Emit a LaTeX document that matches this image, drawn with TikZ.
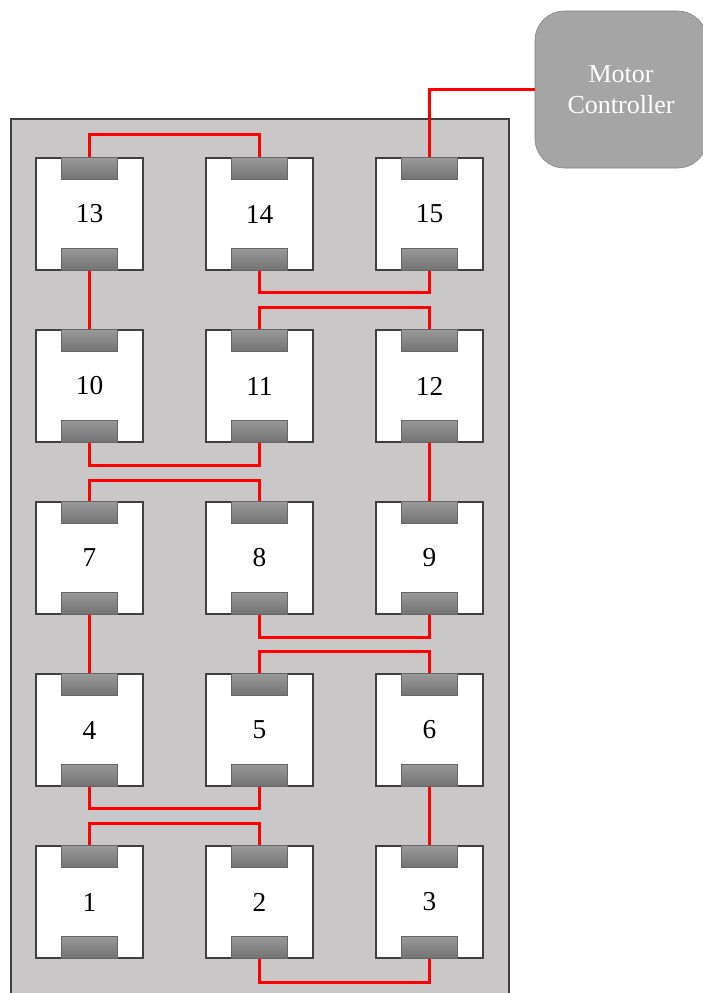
\documentclass[tikz,border=0pt]{standalone}
\usepackage{fontspec}
\setmainfont{Liberation Serif}
\usetikzlibrary{positioning,calc}
\definecolor{panelgray}{RGB}{201,199,200}
\definecolor{ctrlgray}{RGB}{165,165,165}
\definecolor{wirered}{RGB}{255,0,0}

\begin{document}
\begin{tikzpicture}[
  x=0.75pt,y=-0.75pt,
  module/.style={rectangle,draw=black!75,fill=white,line width=0.8pt,
    minimum width=80.25pt,minimum height=84pt,inner sep=0pt,
    font=\fontsize{20.5}{22}\selectfont},
  pad/.style={rectangle,draw=black!60,line width=0.6pt,top color=gray!80,bottom color=black!55,
    minimum width=42pt,minimum height=16.5pt,inner sep=0pt},
  wire/.style={wirered,line width=2.8pt},
  ctrl/.style={rectangle,rounded corners=22pt,draw=black!50,fill=ctrlgray,
    minimum width=129pt,minimum height=117.75pt,text=white,align=center,
    font=\fontsize{19.5}{23}\selectfont},
]
  \clip (0,0) rectangle (703,993);
  \useasboundingbox (0,0) rectangle (703,993);
  % background panel
  \draw[draw=black!75,fill=panelgray,line width=1pt] (11,119) rectangle (509,1010);
  % motor modules
  \foreach \n in {1,...,15}{
    \pgfmathtruncatemacro{\col}{mod(\n-1,3)}
    \pgfmathtruncatemacro{\row}{(\n-1)/3}
    \node[module] (m\n) at ({89.5+170*\col},{902-172*\row}) {\n};
    \node[pad,anchor=north] (pt\n) at (m\n.north) {};
    \node[pad,anchor=south] (pb\n) at (m\n.south) {};
  }
  \node[ctrl] (mc) at (621,89.5) {Motor\\Controller};
  % wiring
  \draw[wire] (mc.west) -| (pt15.north);
  \draw[wire] (pt13.north) -- ++(0,-23) -| (pt14.north);
  \draw[wire] (pb13.south) -- (pt10.north);
  \draw[wire] (pb14.south) -- ++(0,22) -| (pb15.south);
  \draw[wire] (pt11.north) -- ++(0,-22) -| (pt12.north);
  \draw[wire] (pb10.south) -- ++(0,23) -| (pb11.south);
  \draw[wire] (pt7.north) -- ++(0,-21) -| (pt8.north);
  \draw[wire] (pb12.south) -- (pt9.north);
  \draw[wire] (pb7.south) -- (pt4.north);
  \draw[wire] (pb8.south) -- ++(0,23) -| (pb9.south);
  \draw[wire] (pt5.north) -- ++(0,-22) -| (pt6.north);
  \draw[wire] (pb4.south) -- ++(0,22) -| (pb5.south);
  \draw[wire] (pt1.north) -- ++(0,-22) -| (pt2.north);
  \draw[wire] (pb6.south) -- (pt3.north);
  \draw[wire] (pb2.south) -- ++(0,24) -| (pb3.south);
\end{tikzpicture}
\end{document}
